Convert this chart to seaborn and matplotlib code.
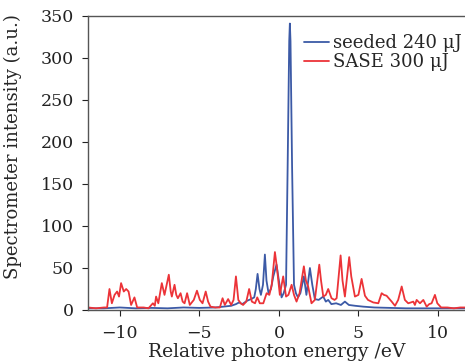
import matplotlib
matplotlib.use("Agg")
import matplotlib.pyplot as plt
import seaborn as sns
import pandas as pd

# Seeded 240 uJ spectrum
seeded_x = [-12.0, -11.0, -10.0, -9.0, -8.0, -7.0, -6.0, -5.0, -4.0, -3.5, -3.0, -2.7, -2.5, -2.3,
            -2.0, -1.75, -1.55, -1.45, -1.34, -1.22, -1.13, -1.0, -0.88, -0.78, -0.65, -0.5, -0.35,
            -0.15, 0.0, 0.17, 0.3, 0.45, 0.55, 0.65, 0.69, 0.73, 0.83, 0.95, 1.07, 1.2, 1.35, 1.57,
            1.73, 1.95, 2.1, 2.26, 2.5, 2.79, 2.95, 3.1, 3.3, 3.6, 3.9, 4.15, 4.4, 4.8, 5.3, 6.0,
            7.0, 8.0, 9.0, 10.0, 11.0, 11.7]
seeded_y = [2, 2, 3, 2, 2.5, 2, 3, 2.5, 3, 4, 5, 7, 9, 7,
            11, 13, 15, 25, 43, 25, 18, 30, 66, 35, 20, 25, 40,
            54, 35, 15, 20, 30, 170, 320, 341, 320, 170, 30, 20, 15, 20, 40,
            18, 50, 30, 13, 12, 16, 10, 12, 7, 8, 6, 10, 6, 5, 4, 3,
            2.5, 2, 2, 2, 2, 2]

# SASE 300 uJ spectrum
sase_x = [-12.0, -11.5, -11.0, -10.8, -10.65, -10.5, -10.33, -10.17, -10.05, -9.92, -9.75, -9.6,
          -9.45, -9.29, -9.08, -8.91, -8.5, -8.2, -7.92, -7.8, -7.72, -7.58, -7.36, -7.19, -6.92,
          -6.8, -6.73, -6.56, -6.45, -6.35, -6.18, -6.05, -5.93, -5.77, -5.6, -5.35, -5.15, -4.97,
          -4.8, -4.6, -4.45, -4.3, -4.0, -3.71, -3.54, -3.4, -3.19, -3.0, -2.85, -2.7, -2.55, -2.4,
          -2.25, -2.05, -1.87, -1.7, -1.5, -1.36, -1.2, -0.98, -0.77, -0.6, -0.45, -0.25, -0.12,
          0.06, 0.27, 0.45, 0.6, 0.8, 0.95, 1.11, 1.3, 1.57, 1.7, 1.84, 2.05, 2.26, 2.54, 2.65,
          2.79, 2.95, 3.1, 3.31, 3.5, 3.63, 3.88, 4.0, 4.15, 4.42, 4.55, 4.78, 5.0, 5.2, 5.41, 5.6,
          5.93, 6.25, 6.46, 6.6, 6.77, 7.09, 7.3, 7.5, 7.72, 7.92, 8.13, 8.3, 8.45, 8.55, 8.66,
          8.87, 9.08, 9.29, 9.45, 9.6, 9.81, 9.96, 10.2, 10.6, 11.0, 11.4, 11.7]
sase_y = [3, 2, 3, 3, 25, 8, 18, 22, 16, 32, 22, 25,
          22, 6, 15, 3, 3, 2, 8, 5, 16, 8, 32, 18, 42,
          22, 16, 30, 18, 14, 20, 10, 8, 20, 6, 12, 23, 12,
          8, 22, 10, 4, 3, 3, 14, 6, 13, 6, 12, 40, 12, 8,
          6, 10, 25, 10, 8, 15, 8, 8, 20, 18, 30, 69, 50,
          18, 40, 16, 18, 30, 18, 10, 20, 52, 35, 28, 8, 12, 54, 35,
          16, 18, 25, 14, 12, 14, 65, 35, 16, 63, 40, 16, 18, 37, 17, 12,
          9, 8, 20, 18, 17, 10, 5, 12, 28, 12, 8, 9, 10, 6, 12,
          8, 12, 4, 7, 8, 18, 8, 3, 3, 2, 3, 3]

x_ticks = [-10, -5, 0, 5, 10]
y_ticks = [0, 50, 100, 150, 200, 250, 300, 350]

df = pd.concat([
    pd.DataFrame({"x": seeded_x, "y": seeded_y, "s": "seeded 240 \u03bcJ"}),
    pd.DataFrame({"x": sase_x, "y": sase_y, "s": "SASE 300 \u03bcJ"}),
])

sns.set_style("ticks")
plt.rcParams["font.family"] = ["DejaVu Serif"]
plt.rcParams["mathtext.fontset"] = "dejavuserif"

fig = plt.figure(figsize=(4.65, 3.62), dpi=100)
ax = fig.add_axes([88 / 465, 52 / 362, 1 - 88 / 465, 294 / 362])

sns.lineplot(data=df, x="x", y="y", hue="s", sort=False, estimator=None,
             palette=["#3c5aa6", "#ec3338"], linewidth=1.3, ax=ax)

ax.set_xlim(-12, 11.7)
ax.set_ylim(0, 350)
ax.set_xticks(x_ticks)
ax.set_xticklabels(["\u221210", "\u22125", "0", "5", "10"])
ax.set_yticks(y_ticks)
ax.tick_params(labelsize=12.5, direction="out", length=4, width=0.8, colors="#222222")
ax.tick_params(axis="x", pad=6.5)
ax.tick_params(axis="y", pad=6)
for s in ["left", "bottom", "top"]:
    ax.spines[s].set_color("#555555")
    ax.spines[s].set_linewidth(1.0)
ax.spines["right"].set_visible(False)

ax.set_xlabel("Relative photon energy /eV", fontsize=13.5, labelpad=1)
ax.set_ylabel("Spectrometer intensity (a.u.)", fontsize=13)
ax.yaxis.set_label_coords(-0.175, 0.555)

leg = ax.legend(loc="upper right", bbox_to_anchor=(1.02, 0.975), frameon=False, fontsize=13,
                handlelength=1.4, handletextpad=0.2, labelspacing=0.05, borderaxespad=0.2)
for h in leg.get_lines():
    h.set_linewidth(1.3)

fig.savefig("out.png", dpi=100)
